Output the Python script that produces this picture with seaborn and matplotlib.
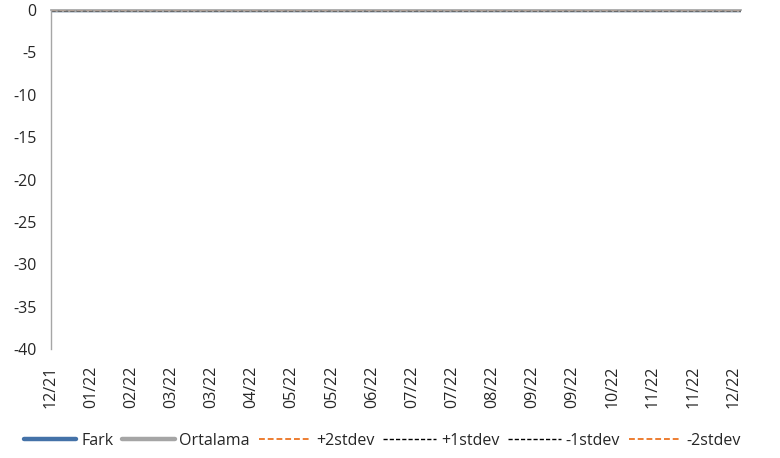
import pandas as pd
import matplotlib
matplotlib.use("Agg")
import matplotlib.pyplot as plt
import matplotlib.dates as mdates
import seaborn as sns

# Data (every series sits on the zero line)
dates = ["2021-12-28", "2022-01-18", "2022-02-08", "2022-03-01", "2022-03-22",
         "2022-04-12", "2022-05-03", "2022-05-24", "2022-06-14", "2022-07-05",
         "2022-07-26", "2022-08-16", "2022-09-06", "2022-09-27", "2022-10-18",
         "2022-11-08", "2022-11-29", "2022-12-20", "2022-12-24"]
fark     = [0.0, 0.0, 0.0, 0.0, 0.0, 0.0, 0.0, 0.0, 0.0, 0.0, 0.0, 0.0, 0.0, 0.0, 0.0, 0.0, 0.0, 0.0, 0.0]
ortalama = [0.0, 0.0, 0.0, 0.0, 0.0, 0.0, 0.0, 0.0, 0.0, 0.0, 0.0, 0.0, 0.0, 0.0, 0.0, 0.0, 0.0, 0.0, 0.0]
plus2sd  = [0.0, 0.0, 0.0, 0.0, 0.0, 0.0, 0.0, 0.0, 0.0, 0.0, 0.0, 0.0, 0.0, 0.0, 0.0, 0.0, 0.0, 0.0, 0.0]
plus1sd  = [0.0, 0.0, 0.0, 0.0, 0.0, 0.0, 0.0, 0.0, 0.0, 0.0, 0.0, 0.0, 0.0, 0.0, 0.0, 0.0, 0.0, 0.0, 0.0]
minus1sd = [0.0, 0.0, 0.0, 0.0, 0.0, 0.0, 0.0, 0.0, 0.0, 0.0, 0.0, 0.0, 0.0, 0.0, 0.0, 0.0, 0.0, 0.0, 0.0]
minus2sd = [0.0, 0.0, 0.0, 0.0, 0.0, 0.0, 0.0, 0.0, 0.0, 0.0, 0.0, 0.0, 0.0, 0.0, 0.0, 0.0, 0.0, 0.0, 0.0]
tick_dates = dates[:-1]
y_ticks = [0, -5, -10, -15, -20, -25, -30, -35, -40]

df = pd.DataFrame({"date": pd.to_datetime(dates), "Fark": fark, "Ortalama": ortalama,
                   "+2stdev": plus2sd, "+1stdev": plus1sd,
                   "-1stdev": minus1sd, "-2stdev": minus2sd})

sns.set_theme(style="white")
plt.rcParams["font.family"] = ["Open Sans", "DejaVu Sans"]
plt.rcParams["axes.unicode_minus"] = False

fig = plt.figure(figsize=(7.8, 4.58), dpi=100)
ax = fig.add_axes([0.065, 0.238, 0.885, 0.740])

dash = (0, (3, 1.5))
styles = {
    "Fark":     dict(color="#4472A8", linewidth=3.2, linestyle="-"),
    "Ortalama": dict(color="#A5A5A5", linewidth=3.2, linestyle="-"),
    "+1stdev":  dict(color="#000000", linewidth=1.0, linestyle=dash),
    "-1stdev":  dict(color="#000000", linewidth=1.0, linestyle=dash),
    "+2stdev":  dict(color="#ED7D31", linewidth=1.4, linestyle=dash),
    "-2stdev":  dict(color="#ED7D31", linewidth=1.4, linestyle=dash),
}
for name, st in styles.items():
    sns.lineplot(data=df, x="date", y=name, ax=ax, label=name, **st)

ax.set_ylim(-40, 0)
ax.set_yticks(y_ticks)
ax.set_xlim(pd.Timestamp(dates[0]), pd.Timestamp(dates[-1]))
ax.set_xticks(pd.to_datetime(tick_dates))
ax.xaxis.set_major_formatter(mdates.DateFormatter("%m/%y"))
ax.tick_params(axis="x", labelrotation=90, labelsize=11.5, length=0, pad=12)
ax.tick_params(axis="y", labelsize=11.5, length=0, pad=10)
ax.set_xlabel("")
ax.set_ylabel("")

for side in ["right", "bottom"]:
    ax.spines[side].set_visible(False)
ax.spines["left"].set_color("#A6A6A6")
ax.spines["top"].set_color("#A6A6A6")
ax.spines["left"].set_linewidth(1.0)

# legend in the original order
handles, labels = ax.get_legend_handles_labels()
ax.get_legend().remove()
order = ["Fark", "Ortalama", "+2stdev", "+1stdev", "-1stdev", "-2stdev"]
hmap = dict(zip(labels, handles))
fig.legend([hmap[k] for k in order], order, loc="center left",
           bbox_to_anchor=(0.022, 0.037), ncol=6, frameon=False, fontsize=11.5,
           handlelength=3.3, handletextpad=0.3, columnspacing=0.55, borderaxespad=0)

fig.savefig("out.png", dpi=100)
